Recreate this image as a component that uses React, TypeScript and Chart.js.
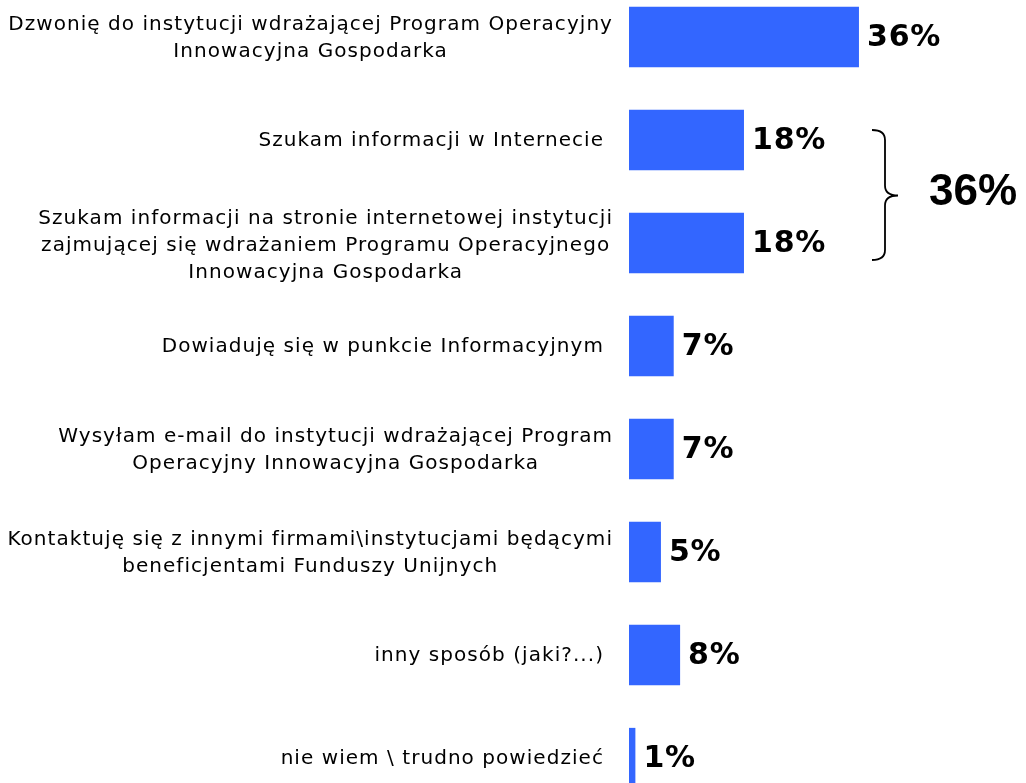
import React, { useEffect, useRef } from "react";
import { Chart, registerables } from "chart.js";

Chart.register(...registerables);

const categories: string[][] = [
  ["Dzwonię do instytucji wdrażającej Program Operacyjny", "Innowacyjna Gospodarka"],
  ["Szukam informacji w Internecie"],
  [
    "Szukam informacji na stronie internetowej instytucji",
    "zajmującej się wdrażaniem Programu Operacyjnego",
    "Innowacyjna Gospodarka",
  ],
  ["Dowiaduję się w punkcie Informacyjnym"],
  ["Wysyłam e-mail do instytucji wdrażającej Program", "Operacyjny Innowacyjna Gospodarka"],
  ["Kontaktuję się z innymi firmami\\instytucjami będącymi", "beneficjentami Funduszy Unijnych"],
  ["inny sposób (jaki?...)"],
  ["nie wiem \\ trudno powiedzieć"],
];
const values: number[] = [36, 18, 18, 7, 7, 5, 8, 1];
const valueLabels: string[] = ["36%", "18%", "18%", "7%", "7%", "5%", "8%", "1%"];
const groupIndices: number[] = [1, 2];
const groupTotalLabel = "36%";

const BAR_COLOR = "#3366FF";

const labelsPlugin = {
  id: "customLabels",
  afterDatasetsDraw(chart: any) {
    const ctx = chart.ctx as CanvasRenderingContext2D;
    const yScale = chart.scales.y;
    const area = chart.chartArea;
    ctx.save();
    // category labels
    ctx.fillStyle = "#000";
    ctx.font = "20px 'DejaVu Sans'";
    (ctx as any).letterSpacing = "1.05px";
    ctx.textBaseline = "middle";
    ctx.textAlign = "center";
    const lineH = 27;
    categories.forEach((lines, i) => {
      const y = yScale.getPixelForValue(i);
      const rightEdge = lines.length > 1 ? area.left - 16 : area.left - 25;
      const maxW = Math.max(...lines.map((l) => ctx.measureText(l).width));
      const cx = rightEdge - maxW / 2;
      const shift = lines.length > 2 ? 3 : 1;
      lines.forEach((l, j) => {
        ctx.fillText(l, cx, y + (j - (lines.length - 1) / 2) * lineH + shift);
      });
    });
    // value labels
    const meta = chart.getDatasetMeta(0);
    ctx.font = "bold 30px 'DejaVu Sans'";
    (ctx as any).letterSpacing = "0.8px";
    ctx.textAlign = "left";
    meta.data.forEach((bar: any, i: number) => {
      ctx.fillText(valueLabels[i], bar.x + 8, bar.y + 1);
    });
    (ctx as any).letterSpacing = "0px";
    // bracket
    const yA = yScale.getPixelForValue(groupIndices[0]);
    const yB = yScale.getPixelForValue(groupIndices[groupIndices.length - 1]);
    const top = yA - 10;
    const bottom = yB + 17;
    const mid = (yA + yB) / 2 + 4;
    const xL = area.left + 243;
    const xV = area.left + 256;
    const xT = area.left + 269;
    const r = 10;
    ctx.strokeStyle = "#000";
    ctx.lineWidth = 1.8;
    ctx.beginPath();
    ctx.moveTo(xL, top);
    ctx.quadraticCurveTo(xV, top, xV, top + r);
    ctx.lineTo(xV, mid - r);
    ctx.quadraticCurveTo(xV, mid, xT, mid);
    ctx.quadraticCurveTo(xV, mid, xV, mid + r);
    ctx.lineTo(xV, bottom - r);
    ctx.quadraticCurveTo(xV, bottom, xL, bottom);
    ctx.stroke();
    ctx.font = "bold 44px 'Liberation Sans'";
    ctx.textAlign = "left";
    ctx.textBaseline = "middle";
    ctx.fillText(groupTotalLabel, area.left + 300, mid - 3);
    ctx.restore();
  },
};

export default function App() {
  const canvasRef = useRef<HTMLCanvasElement | null>(null);
  useEffect(() => {
    if (!canvasRef.current) return;
    const chart = new Chart(canvasRef.current, {
      type: "bar",
      data: {
        labels: categories.map((c) => c.join(" ")),
        datasets: [
          {
            data: values,
            backgroundColor: BAR_COLOR,
            borderWidth: 0,
            barPercentage: 0.585,
            categoryPercentage: 1,
            clip: false as any,
          },
        ],
      },
      options: {
        indexAxis: "y",
        animation: false,
        responsive: true,
        maintainAspectRatio: false,
        layout: { padding: { left: 629, right: 77.6, top: 37, bottom: 25 } },
        scales: {
          x: { display: false, min: 0, max: 50, grid: { display: false } },
          y: { display: false, offset: false, grid: { display: false } },
        },
        plugins: {
          legend: { display: false },
          tooltip: { enabled: false },
        },
      },
      plugins: [labelsPlugin],
    });
    return () => chart.destroy();
  }, []);
  return (
    <div style={{ position: "fixed", left: 0, top: 0, width: 1026, height: 783, background: "#fff" }}>
      <canvas ref={canvasRef} />
    </div>
  );
}
